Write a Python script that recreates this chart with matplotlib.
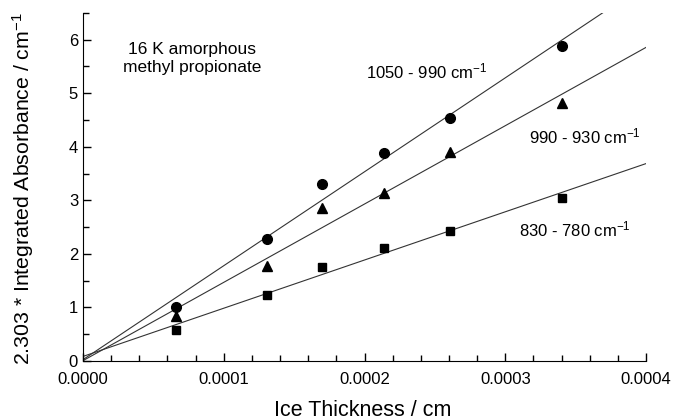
import numpy as np
import matplotlib
matplotlib.use("Agg")
import matplotlib.pyplot as plt
from matplotlib.ticker import MultipleLocator, FormatStrFormatter

plt.rcParams['font.family'] = ['Liberation Sans', 'DejaVu Sans']
plt.rcParams['mathtext.fontset'] = 'custom'
plt.rcParams['mathtext.rm'] = 'Liberation Sans'
plt.rcParams['mathtext.it'] = 'Liberation Sans'

thickness = [6.6e-5, 1.31e-4, 1.70e-4, 2.14e-4, 2.61e-4, 3.40e-4]
band_1050_990 = [1.01, 2.27, 3.30, 3.89, 4.53, 5.88]
band_990_930 = [0.84, 1.77, 2.85, 3.14, 3.90, 4.82]
band_830_780 = [0.57, 1.24, 1.75, 2.11, 2.43, 3.05]

fig = plt.figure(figsize=(6.73, 4.2), dpi=100)
ax = fig.add_axes([0.1233, 0.1405, 0.8367, 0.829])

xfit = np.array([0.0, 0.0004])
for y, m, ms in [(band_1050_990, 'o', 7), (band_990_930, '^', 7), (band_830_780, 's', 6)]:
    p = np.polyfit(thickness, y, 1)
    ax.plot(xfit, np.polyval(p, xfit), color='#333333', lw=0.8, zorder=1)
    ax.plot(thickness, y, m, color='black', ms=ms, zorder=2)

ax.set_xlim(0, 0.0004)
ax.set_ylim(0, 6.5)
ax.xaxis.set_major_locator(MultipleLocator(0.0001))
ax.xaxis.set_minor_locator(MultipleLocator(0.00002))
ax.xaxis.set_major_formatter(FormatStrFormatter('%.4f'))
ax.yaxis.set_major_locator(MultipleLocator(1))
ax.yaxis.set_minor_locator(MultipleLocator(0.5))
for s in ['top', 'right']:
    ax.spines[s].set_visible(False)
ax.tick_params(which='both', direction='in', labelsize=12, width=1)
ax.tick_params(which='major', length=6)
ax.tick_params(which='minor', length=4)
ax.tick_params(axis='x', pad=8)

ax.set_xlabel('Ice Thickness / cm', fontsize=15.5)
ax.xaxis.set_label_coords(0.496, -0.112)
ax.set_ylabel(r'2.303 * Integrated Absorbance / cm$^{-1}$', fontsize=15.3)
ax.yaxis.set_label_coords(-0.083, 0.494)

ax.text(0.0000773, 5.65, '16 K amorphous\nmethyl propionate', fontsize=12.5,
        ha='center', va='center', multialignment='center', linespacing=1.2)
ax.text(0.000201, 5.4, r'1050 - 990 cm$^{-1}$', fontsize=12, ha='left', va='center')
ax.text(0.000317, 4.2, r'990 - 930 cm$^{-1}$', fontsize=12, ha='left', va='center')
ax.text(0.000310, 2.45, r'830 - 780 cm$^{-1}$', fontsize=12, ha='left', va='center')

fig.savefig('out.png', dpi=100)
